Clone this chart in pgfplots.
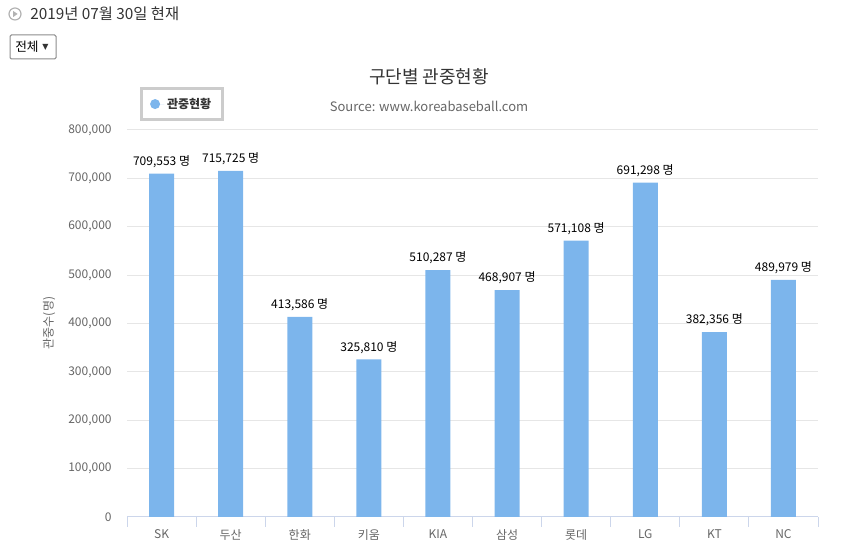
\documentclass[border=0pt]{standalone}
\usepackage{fontspec}
\usepackage{pgfplots}
\pgfplotsset{compat=1.18}
\setmainfont{Noto Sans CJK KR}
\newfontfamily\dejavu{DejaVu Sans}
\definecolor{barblue}{HTML}{7CB5EC}
\definecolor{gridgray}{HTML}{E6E6E6}
\definecolor{axisline}{HTML}{CCD6EB}
\definecolor{labelgray}{HTML}{666666}
\definecolor{titlegray}{HTML}{333333}

\begin{document}
\begin{tikzpicture}
% page = 842 x 555 px, 1px = 0.75pt
\useasboundingbox (0,0) rectangle (631.5pt,416.25pt);
\begin{axis}[
  at={(95.25pt,28.5pt)}, anchor=south west,
  scale only axis, width=518.25pt, height=290.25pt,
  xmin=-0.5, xmax=9.5, ymin=0, ymax=800000,
  axis x line*=bottom, axis y line*=left,
  y axis line style={draw=none},
  x axis line style={draw=axisline, line width=0.75pt},
  /pgf/number format/assume math mode=true,
  major tick length=0pt,
  xtick={0,1,2,3,4,5,6,7,8,9},
  xticklabels={SK,두산,한화,키움,KIA,삼성,롯데,LG,KT,NC},
  xticklabel style={font=\fontsize{9}{10}\selectfont, text=labelgray, yshift=-6pt},
  extra x ticks={-0.5,0.5,1.5,2.5,3.5,4.5,5.5,6.5,7.5,8.5,9.5},
  extra x tick labels={},
  extra x tick style={major tick length=7.5pt, tick align=outside,
    tick style={draw=axisline, line width=0.75pt}, grid=none},
  ytick={0,100000,200000,300000,400000,500000,600000,700000,800000},
  scaled y ticks=false,
  yticklabel style={font=\fontsize{9}{10}\selectfont, text=labelgray, xshift=-8pt,
    /pgf/number format/.cd, fixed, 1000 sep={,}},
  ymajorgrids, grid style={draw=gridgray, line width=0.75pt},
  legend style={at={(0.0796,1.067)}, anchor=center, draw=black!20, line width=2pt,
    font=\bfseries\fontsize{9}{10}\selectfont, text=titlegray,
    inner xsep=6.5pt, inner ysep=5pt},
]
\addplot[ybar, bar width=18.75pt, fill=barblue, draw=none,
  point meta=explicit symbolic,
  nodes near coords,
  every node near coord/.append style={font=\fontsize{9}{10}\selectfont, text=black, yshift=1pt},
  legend image code/.code={\fill[barblue] (0pt,0pt) circle (3.75pt);
    \path (3.75pt,0pt) -- (7pt,0pt);}]
  coordinates {
  (0,709553) [709,553 명]
  (1,715725) [715,725 명]
  (2,413586) [413,586 명]
  (3,325810) [325,810 명]
  (4,510287) [510,287 명]
  (5,468907) [468,907 명]
  (6,571108) [571,108 명]
  (7,691298) [691,298 명]
  (8,382356) [382,356 명]
  (9,489979) [489,979 명]
  };
\addlegendentry{관중현황}
\end{axis}
% header
\draw[black!30, line width=0.9pt] (11.25pt,405.75pt) circle (4.5pt);
\fill[black!30] (9.9pt,403.5pt) -- (13.2pt,405.75pt) -- (9.9pt,408pt) -- cycle;
\node[anchor=west, inner sep=0pt, text=titlegray, font=\fontsize{11.5}{13}\selectfont]
  at (22.5pt,405.75pt) {2019년 07월 30일 현재};
% dropdown
\draw[black!45, line width=0.75pt, rounded corners=1pt] (7.5pt,372pt) rectangle (42pt,390pt);
\node[anchor=west, inner sep=0pt, text=black, font=\fontsize{9.5}{11}\selectfont]
  at (11.25pt,381pt) {전체};
\node[anchor=center, inner sep=0pt, text=black!80, font=\dejavu\fontsize{6}{7}\selectfont]
  at (34pt,381pt) {▼};
% titles
\node[text=titlegray, font=\fontsize{13.5}{15}\selectfont] at (321.75pt,358.5pt) {구단별 관중현황};
\node[text=labelgray, font=\fontsize{9.75}{11}\selectfont] at (321.75pt,336.75pt) {Source: www.koreabaseball.com};
\node[rotate=90, text=labelgray, font=\fontsize{9}{10}\selectfont] at (36.75pt,174pt) {관중수(명)};
\end{tikzpicture}
\end{document}
